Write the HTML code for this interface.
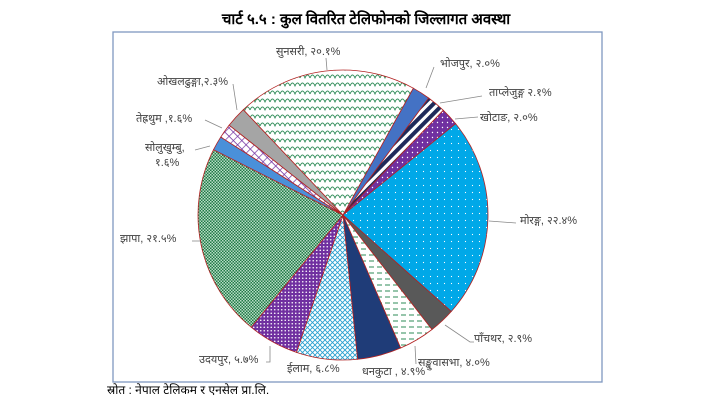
<!DOCTYPE html>
<html><head><meta charset="utf-8">
<style>
html,body{margin:0;padding:0;background:#fff;width:714px;height:403px;overflow:hidden}
svg text{font-family:"Liberation Sans","Noto Sans CJK SC",sans-serif}
</style></head><body>
<svg id="s" width="714" height="403" viewBox="0 0 714 403" xmlns="http://www.w3.org/2000/svg">
<defs>
<pattern id="pSun" width="10" height="8" patternUnits="userSpaceOnUse"><rect width="10" height="8" fill="#fff"/><path d="M0 6 Q2.5 0 5 6 Q7.5 0 10 6" fill="none" stroke="#2e8b57" stroke-width="0.9"/></pattern>
<pattern id="pTap" width="7" height="7" patternUnits="userSpaceOnUse" patternTransform="rotate(45)"><rect width="7" height="7" fill="#fff"/><rect width="4" height="7" fill="#1f2a5a"/></pattern>
<pattern id="pKho" width="5" height="5" patternUnits="userSpaceOnUse"><rect width="5" height="5" fill="#7030a0"/><circle cx="2.5" cy="2.5" r="0.7" fill="#fff"/></pattern>
<pattern id="pMor" width="7" height="7" patternUnits="userSpaceOnUse"><rect width="7" height="7" fill="#00a8e8"/><circle cx="3.5" cy="3.5" r="0.6" fill="#fff"/></pattern>
<pattern id="pSan" width="8" height="6" patternUnits="userSpaceOnUse"><rect width="8" height="6" fill="#fff"/><path d="M1 3 H6" stroke="#2e8b57" stroke-width="1"/></pattern>
<pattern id="pIla" width="5" height="5" patternUnits="userSpaceOnUse"><rect width="5" height="5" fill="#fff"/><path d="M0 0 L5 5 M5 0 L0 5" stroke="#2aa0d0" stroke-width="0.9"/></pattern>
<pattern id="pUda" width="3.5" height="3.5" patternUnits="userSpaceOnUse"><rect width="3.5" height="3.5" fill="#7030a0"/><circle cx="1.75" cy="1.75" r="0.8" fill="#fff"/></pattern>
<pattern id="pJha" width="3" height="3" patternUnits="userSpaceOnUse"><rect width="3" height="3" fill="#1f7a45"/><rect width="1.5" height="1.5" fill="#b8dcc6"/><rect x="1.5" y="1.5" width="1.5" height="1.5" fill="#b8dcc6"/></pattern>
<pattern id="pTeh" width="6" height="6" patternUnits="userSpaceOnUse" patternTransform="rotate(45)"><rect width="6" height="6" fill="#fff"/><path d="M0 0 H6 M0 0 V6" stroke="#7030a0" stroke-width="1.4"/></pattern>
</defs>
<text x="366" y="24" text-anchor="middle" font-size="15" font-weight="bold" fill="#000">चार्ट ५.५ : कुल वितरित टेलिफोनको जिल्लागत अवस्था</text>
<rect x="113" y="32" width="489" height="350" fill="#fff" stroke="#7f97c0" stroke-width="1.3"/>
<g id="pie" stroke="#b22222" stroke-width="0.8"></g>
<g stroke="#888" stroke-width="0.8" fill="none">
<path d="M326 58 L327 70"/><path d="M434 67 L426 88"/><path d="M482 96 L440 103"/><path d="M478 117 L455 119"/>
<path d="M489 221 L516 223"/><path d="M445 325 L470 342 L474 342"/><path d="M415 346 L416 364"/>
<path d="M270 346 L270 362 L266 362"/><path d="M192 241 L200 241"/><path d="M195 150 L210 146"/>
<path d="M205 120 L222 128"/><path d="M233 84 L237 110"/>
</g>
<g font-size="11" fill="#404040">
<text x="276" y="55">सुनसरी, २०.१%</text>
<text x="440" y="67">भोजपुर, २.०%</text>
<text x="489" y="96">ताप्लेजुङ्ग २.१%</text>
<text x="480" y="121">खोटाङ, २.०%</text>
<text x="520" y="224">मोरङ्ग, २२.४%</text>
<text x="474" y="342">पाँचथर, २.९%</text>
<text x="418" y="366">सङ्खुवासभा, ४.०%</text>
<text x="362" y="375">धनकुटा , ४.९%</text>
<text x="287" y="372">ईलाम, ६.८%</text>
<text x="199" y="363">उदयपुर, ५.७%</text>
<text x="120" y="242">झापा, २१.५%</text>
<text x="145" y="151">सोलुखुम्बु,</text>
<text x="155" y="166">१.६%</text>
<text x="136" y="122">तेह्रथुम ,१.६%</text>
<text x="157" y="85">ओखलढुङ्गा,२.३%</text>
</g>
<text x="107" y="394" font-size="12" fill="#000">स्रोत : नेपाल टेलिकम र एनसेल प्रा.लि.</text>
</svg>
<script>
var data=[[2.0,"#4472c4"],[2.1,"url(#pTap)"],[2.0,"url(#pKho)"],[22.4,"url(#pMor)"],[2.9,"#595959"],[4.0,"url(#pSan)"],[4.9,"#1f3c78"],[6.8,"url(#pIla)"],[5.7,"url(#pUda)"],[21.5,"url(#pJha)"],[1.6,"#4a90d9"],[1.6,"url(#pTeh)"],[2.3,"#a5a5a5"],[20.1,"url(#pSun)"]];
var cx=343,cy=215,r=145,a=29*Math.PI/180,tot=0;data.forEach(function(d){tot+=d[0]});
var g=document.getElementById("pie"),h="";
data.forEach(function(d){var b=a+d[0]/tot*2*Math.PI;
var x1=cx+r*Math.sin(a),y1=cy-r*Math.cos(a),x2=cx+r*Math.sin(b),y2=cy-r*Math.cos(b);
h+='<path d="M'+cx+' '+cy+' L'+x1.toFixed(2)+' '+y1.toFixed(2)+' A'+r+' '+r+' 0 '+((b-a)>Math.PI?1:0)+' 1 '+x2.toFixed(2)+' '+y2.toFixed(2)+' Z" fill="'+d[1]+'"/>';a=b;});
g.innerHTML=h;
</script>
</body></html>
